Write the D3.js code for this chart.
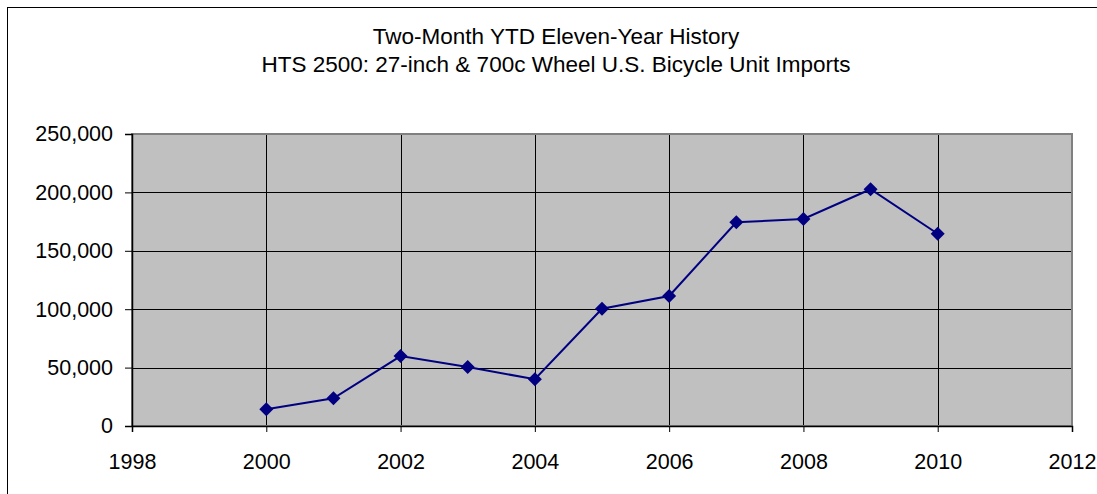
<!DOCTYPE html>
<html>
<head>
<meta charset="utf-8">
<script src="https://cdn.jsdelivr.net/npm/d3@7"></script>
<style>
  body { margin: 0; background: #fff; }
  text { font-family: "Liberation Sans", Arial, sans-serif; fill: #000; }
</style>
</head>
<body>
<svg id="chart" width="1097" height="494"></svg>
<script>
const titleLines = ["Two-Month YTD Eleven-Year History", "HTS 2500: 27-inch & 700c Wheel U.S. Bicycle Unit Imports"];
const years = [2000, 2001, 2002, 2003, 2004, 2005, 2006, 2007, 2008, 2009, 2010];
const imports = [14300, 23700, 59900, 50500, 40000, 100400, 111300, 174400, 177200, 202700, 164600];
const xTicks = [1998, 2000, 2002, 2004, 2006, 2008, 2010, 2012];
const yTicks = [0, 50000, 100000, 150000, 200000, 250000];

const svg = d3.select("#chart");
const pLeft = 132, pRight = 1072, pTop = 134, pBottom = 426;

// outer chart border (right and bottom edges fall outside the frame)
svg.append("rect").attr("x", 7.5).attr("y", 7.5).attr("width", 1100).attr("height", 500)
  .attr("fill", "none").attr("stroke", "#000").attr("stroke-width", 1);

svg.selectAll("text.title").data(titleLines).enter().append("text")
  .attr("class", "title")
  .attr("x", 556).attr("y", (d, i) => 44 + i * 28)
  .attr("text-anchor", "middle").attr("font-size", "22.5px")
  .text(d => d);

const x = d3.scaleLinear().domain([1998, 2012]).range([pLeft, pRight]);
const y = d3.scaleLinear().domain([0, 250000]).range([pBottom, pTop]);

svg.append("rect").attr("x", pLeft).attr("y", pTop).attr("width", pRight - pLeft).attr("height", pBottom - pTop)
  .attr("fill", "#c0c0c0");

// grid
svg.append("g").selectAll("line").data(yTicks.slice(1)).enter().append("line")
  .attr("x1", pLeft).attr("x2", pRight).attr("y1", d => Math.round(y(d)) + 0.5).attr("y2", d => Math.round(y(d)) + 0.5)
  .attr("stroke", "#000").attr("stroke-width", 1);
svg.append("g").selectAll("line").data(xTicks.slice(1, -1)).enter().append("line")
  .attr("y1", pTop).attr("y2", pBottom).attr("x1", d => Math.round(x(d)) + 0.5).attr("x2", d => Math.round(x(d)) + 0.5)
  .attr("stroke", "#000").attr("stroke-width", 1);

// plot border
svg.append("rect").attr("x", pLeft).attr("y", pTop).attr("width", pRight - pLeft).attr("height", pBottom - pTop)
  .attr("fill", "none").attr("stroke", "#808080").attr("stroke-width", 2);

const fmt = d3.format(",");
const yAxis = svg.append("g").attr("transform", `translate(${pLeft},0)`)
  .call(d3.axisLeft(y).tickValues(yTicks).tickFormat(fmt).tickSize(7).tickPadding(12));
const xAxis = svg.append("g").attr("transform", `translate(0,${pBottom})`)
  .call(d3.axisBottom(x).tickValues(xTicks).tickFormat(d3.format("d")).tickSize(6).tickPadding(22));
[yAxis, xAxis].forEach(a => {
  a.select(".domain").attr("stroke", "#000").attr("stroke-width", 1.5);
  a.selectAll(".tick line").attr("stroke", "#000");
  a.selectAll("text").attr("font-size", "21.5px").attr("font-family", "Liberation Sans, Arial, sans-serif").attr("fill", "#000");
});

const pts = years.map((yr, i) => [yr, imports[i]]);
svg.append("path").datum(pts)
  .attr("d", d3.line().x(d => x(d[0])).y(d => y(d[1])))
  .attr("fill", "none").attr("stroke", "#000080").attr("stroke-width", 2);

svg.append("g").selectAll("path").data(pts).enter().append("path")
  .attr("transform", d => `translate(${x(d[0])},${y(d[1])})`)
  .attr("d", "M0,-7L7,0L0,7L-7,0Z")
  .attr("fill", "#000080");
</script>
</body>
</html>
